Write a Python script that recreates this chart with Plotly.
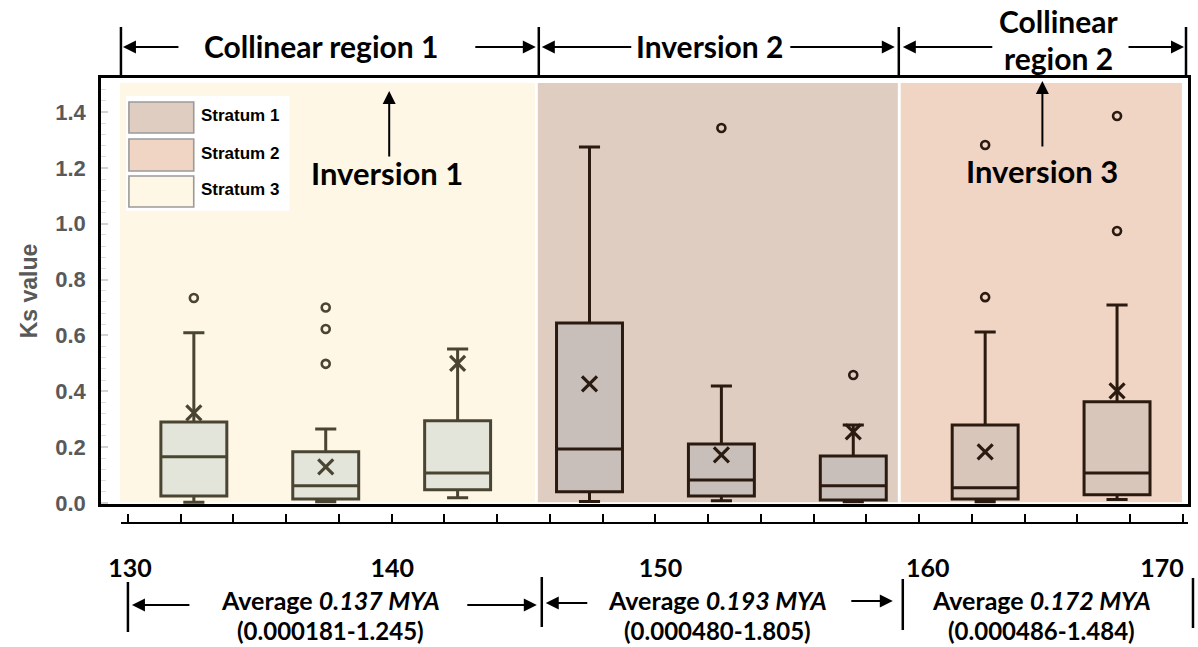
import plotly.graph_objects as go

# ---------------- data ----------------
positions = [132.5, 137.5, 142.5, 147.5, 152.5, 157.5, 162.5, 167.5]
box_stratum = ["Stratum 3", "Stratum 3", "Stratum 3",
               "Stratum 1", "Stratum 1", "Stratum 1",
               "Stratum 2", "Stratum 2"]
q1 = [0.025, 0.014, 0.047, 0.040, 0.025, 0.010, 0.014, 0.029]
median = [0.165, 0.061, 0.107, 0.193, 0.082, 0.061, 0.054, 0.107]
q3 = [0.290, 0.183, 0.294, 0.644, 0.211, 0.168, 0.279, 0.362]
lowerfence = [0.002, 0.004, 0.018, 0.005, 0.008, 0.004, 0.004, 0.012]
upperfence = [0.609, 0.265, 0.551, 1.275, 0.419, 0.279, 0.612, 0.709]
means = [0.322, 0.129, 0.500, 0.426, 0.172, 0.254, 0.183, 0.401]
outliers = [[0.734], [0.700, 0.623, 0.498], [], [], [1.343], [0.458],
            [0.737, 1.282], [0.974, 1.386]]

strata_names = ["Stratum 1", "Stratum 2", "Stratum 3"]
stratum_span = {"Stratum 3": (129.70, 145.43),
                "Stratum 1": (145.54, 159.19),
                "Stratum 2": (159.30, 169.96)}
stratum_top = 1.504

ytick_vals = [0.0, 0.2, 0.4, 0.6, 0.8, 1.0, 1.2, 1.4]
xlabel_vals = [130.08, 140.02, 150.19, 160.32, 169.2]
xlabel_text = ["130", "140", "150", "160", "170"]

region_titles = ["Collinear region 1", "Inversion 2"]
region_averages = ["0.137 MYA", "0.193 MYA", "0.172 MYA"]
region_ranges = ["(0.000181-1.245)", "(0.000480-1.805)", "(0.000486-1.484)"]

# ---------------- styles ----------------
bg_color = {"Stratum 1": "#DFCDC2", "Stratum 2": "#F0D5C4", "Stratum 3": "#FEF7E6"}
box_fill = {"Stratum 1": "#C8BFBB", "Stratum 2": "#D9C6BA", "Stratum 3": "#E3E5DA"}
box_line = {"Stratum 1": "#2B1A10", "Stratum 2": "#2B1A10", "Stratum 3": "#4A4432"}

W, H = 1198, 647
ML, MR, MT, MB = 101, 7, 78, 124
PW, PH = W - ML - MR, H - MT - MB


def PX(px):
    return (px - ML) / PW


def PY(py):
    return (H - MB - py) / PH


TXT = "Lato"
fig = go.Figure()

for s in ["Stratum 3", "Stratum 1", "Stratum 2"]:
    idx = [i for i, b in enumerate(box_stratum) if b == s]
    fig.add_trace(go.Box(
        x=[positions[i] for i in idx],
        q1=[q1[i] for i in idx], median=[median[i] for i in idx],
        q3=[q3[i] for i in idx],
        lowerfence=[lowerfence[i] for i in idx],
        upperfence=[upperfence[i] for i in idx],
        width=2.5, whiskerwidth=0.32, boxpoints=False,
        fillcolor=box_fill[s], line=dict(color=box_line[s], width=3),
        name=s, showlegend=False, hoverinfo="skip"))
    fig.add_trace(go.Scatter(
        x=[positions[i] for i in idx], y=[means[i] for i in idx],
        mode="markers", showlegend=False, hoverinfo="skip",
        marker=dict(symbol="x-thin", size=15, color=box_line[s],
                    line=dict(color=box_line[s], width=3.2))))
    ox, oy = [], []
    for i in idx:
        for v in outliers[i]:
            ox.append(positions[i])
            oy.append(v)
    fig.add_trace(go.Scatter(
        x=ox, y=oy, mode="markers", showlegend=False, hoverinfo="skip",
        marker=dict(symbol="circle-open", size=8, color=box_line[s],
                    line=dict(color=box_line[s], width=2.6))))

# invisible trace to carry the lower axis
fig.add_trace(go.Scatter(x=[130, 170], y=[0, 0], xaxis="x2", yaxis="y",
                         mode="markers", marker=dict(opacity=0),
                         showlegend=False, hoverinfo="skip"))

shapes = []
for s, (x0, x1) in stratum_span.items():
    shapes.append(dict(type="rect", xref="x", yref="y", x0=x0, x1=x1,
                       y0=0.002, y1=stratum_top, fillcolor=bg_color[s],
                       line=dict(width=0), layer="below"))

# legend box
shapes.append(dict(type="rect", xref="paper", yref="paper",
                   x0=PX(126), x1=PX(290), y0=PY(211), y1=PY(96),
                   fillcolor="white", line=dict(width=0), layer="above"))
leg_rows = [(102, 133), (139, 171), (176, 207)]
annotations = []
for name, (t, b) in zip(strata_names, leg_rows):
    shapes.append(dict(type="rect", xref="paper", yref="paper",
                       x0=PX(129), x1=PX(194), y0=PY(b), y1=PY(t),
                       fillcolor=bg_color[name],
                       line=dict(color="#9A9A9A", width=1.6), layer="above"))
    annotations.append(dict(xref="paper", yref="paper", x=PX(199),
                            y=PY((t + b) / 2 - 2), xanchor="left",
                            yanchor="middle", showarrow=False,
                            text="<b>" + name + "</b>",
                            font=dict(family="Liberation Sans, Arial",
                                      size=17, color="black")))

# vertical separator lines (top and bottom)
for x in [121, 540, 901, 1189]:
    shapes.append(dict(type="line", xref="paper", yref="paper",
                       x0=PX(x), x1=PX(x), y0=PY(78), y1=PY(27),
                       line=dict(color="black", width=2.5)))
for x, t, b in [(128, 582, 632), (543, 577, 627), (905, 579, 630), (1196, 578, 628)]:
    shapes.append(dict(type="line", xref="paper", yref="paper",
                       x0=PX(x), x1=PX(x), y0=PY(b), y1=PY(t),
                       line=dict(color="black", width=2.5)))


def arrow(hx, hy, tx, ty):
    annotations.append(dict(xref="paper", yref="paper", x=PX(hx), y=PY(hy),
                            ax=tx - hx, ay=ty - hy, text="", showarrow=True,
                            arrowhead=2, arrowsize=1.3, arrowwidth=2,
                            arrowcolor="black"))


for h, t in [((123, 47), (180, 47)), ((537, 47), (475, 47)),
             ((543, 47), (634, 47)), ((897, 47), (791, 47)),
             ((905, 47), (996, 47)), ((1187, 47), (1130, 47)),
             ((390, 91), (390, 158)), ((1045, 81), (1045, 148)),
             ((132, 605), (191, 605)), ((538, 605), (467, 605)),
             ((547, 603), (590, 603)), ((895, 601), (852, 601))]:
    arrow(h[0], h[1], t[0], t[1])


def label(text, cx, cy, size=30, pad=1):
    annotations.append(dict(xref="paper", yref="paper", x=PX(cx), y=PY(cy),
                            xanchor="center", yanchor="middle", showarrow=False,
                            borderpad=pad,
                            text=text, font=dict(family=TXT, size=size,
                                                 color="black")))


label("<b>" + region_titles[0] + "</b>", 322, 46)
label("<b>" + region_titles[1] + "</b>", 711, 46)
label("<b>Collinear</b>", 1061, 21)
label("<b>region 2</b>", 1061, 58)
label("<b>Inversion 1</b>", 388, 173, size=31)
label("<b>Inversion 3</b>", 1045, 171, size=31)

for cx, avg, rng in zip([331, 719, 1044], region_averages, region_ranges):
    label("<b>Average <i>" + avg + "</i></b>", cx, 600, size=25)
    label("<b>" + rng + "</b>", cx, 630, size=24, pad=0)

fig.update_layout(
    width=W, height=H,
    margin=dict(l=ML, r=MR, t=MT, b=MB, pad=0),
    paper_bgcolor="white", plot_bgcolor="rgba(0,0,0,0)",
    boxmode="overlay", showlegend=False,
    shapes=shapes, annotations=annotations,
    xaxis=dict(domain=[0, 1], range=[128.98, 170.19], anchor="y",
               showticklabels=False, ticks="", showgrid=False, zeroline=False,
               showline=True, mirror=True, linecolor="black", linewidth=2.5),
    yaxis=dict(domain=[PY(504), 1], range=[-0.004, 1.522], anchor="x",
               showgrid=False, zeroline=False, showline=True, mirror=True,
               linecolor="black", linewidth=2.5,
               tickmode="array", tickvals=ytick_vals, tickformat=".1f",
               ticks="inside", ticklen=7, tickwidth=1.5, tickcolor="#D2D2D2",
               ticklabelstandoff=8,
               tickfont=dict(family="Liberation Sans, Arial", size=22,
                             color="#595959", weight="bold"),
               minor=dict(ticks="inside", ticklen=5, tickwidth=1.2,
                          tickcolor="#DCDCDC", dtick=0.04, tick0=0),
               title=dict(text="<b>Ks value</b>", standoff=12,
                          font=dict(family="Liberation Sans, Arial", size=23,
                                    color="#595959"))),
    xaxis2=dict(domain=[PX(121), 1], range=[129.735, 170.19], anchor="free",
                position=0, showgrid=False, zeroline=False,
                showline=True, linecolor="black", linewidth=2,
                tickmode="array", tickvals=xlabel_vals, ticktext=xlabel_text,
                ticks="", ticklabelstandoff=23,
                tickfont=dict(family=TXT, size=25, color="black", weight="bold"),
                minor=dict(ticks="inside", ticklen=8, tickwidth=2,
                           tickcolor="black", tick0=130, dtick=2)),
)

fig.write_html("out.html")
